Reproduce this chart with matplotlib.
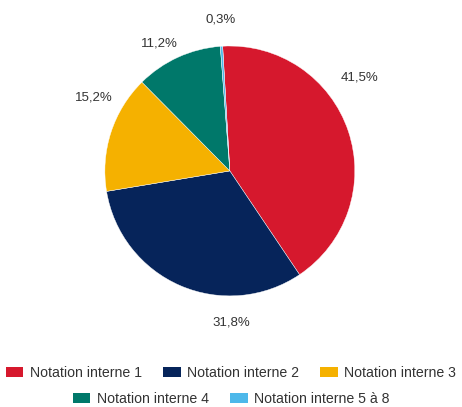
import matplotlib
matplotlib.use("Agg")
import matplotlib.pyplot as plt
from matplotlib.patches import Patch

plt.rcParams['font.family'] = ['Liberation Sans', 'DejaVu Sans']

# data
categories = ['Notation interne 1', 'Notation interne 2', 'Notation interne 3',
              'Notation interne 4', 'Notation interne 5 à 8']
shares = [41.5, 31.8, 15.2, 11.2, 0.3]
colors = ['#D6182D', '#06245A', '#F5B100', '#00786A', '#4DB8EA']
pct_labels = ['41,5%', '31,8%', '15,2%', '11,2%', '0,3%']

# label positions (in units of pie radius)
label_pos = [(1.04, 0.75), (0.01, -1.21), (-1.09, 0.59), (-0.56, 1.02), (-0.07, 1.21)]

fig = plt.figure(figsize=(4.62, 4.07), dpi=100)
ax = fig.add_axes([0.227, 0.273, 0.541, 0.614])

ax.pie(shares, colors=colors, startangle=93.3, counterclock=False,
       wedgeprops=dict(edgecolor='white', linewidth=0.3))
ax.set_xlim(-1, 1)
ax.set_ylim(-1, 1)
ax.set_aspect('auto')
ax.axis('off')

for txt, (x, y) in zip(pct_labels, label_pos):
    ax.text(x, y, txt, ha='center', va='center', fontsize=9.5, color='#333333')

handles = [Patch(facecolor=c, edgecolor='none') for c in colors]
leg_kw = dict(frameon=False, fontsize=10.2, handlelength=1.25, handleheight=0.72,
              handletextpad=0.45, columnspacing=1.5, labelcolor='#333333',
              loc='center', borderpad=0, borderaxespad=0)
fig.legend(handles[:3], categories[:3], ncol=3,
           bbox_to_anchor=(0.5, 1 - 373 / 407), **leg_kw)
fig.legend(handles[3:], categories[3:], ncol=2,
           bbox_to_anchor=(0.5, 1 - 399 / 407), **leg_kw)

fig.savefig('out.png', dpi=100)
